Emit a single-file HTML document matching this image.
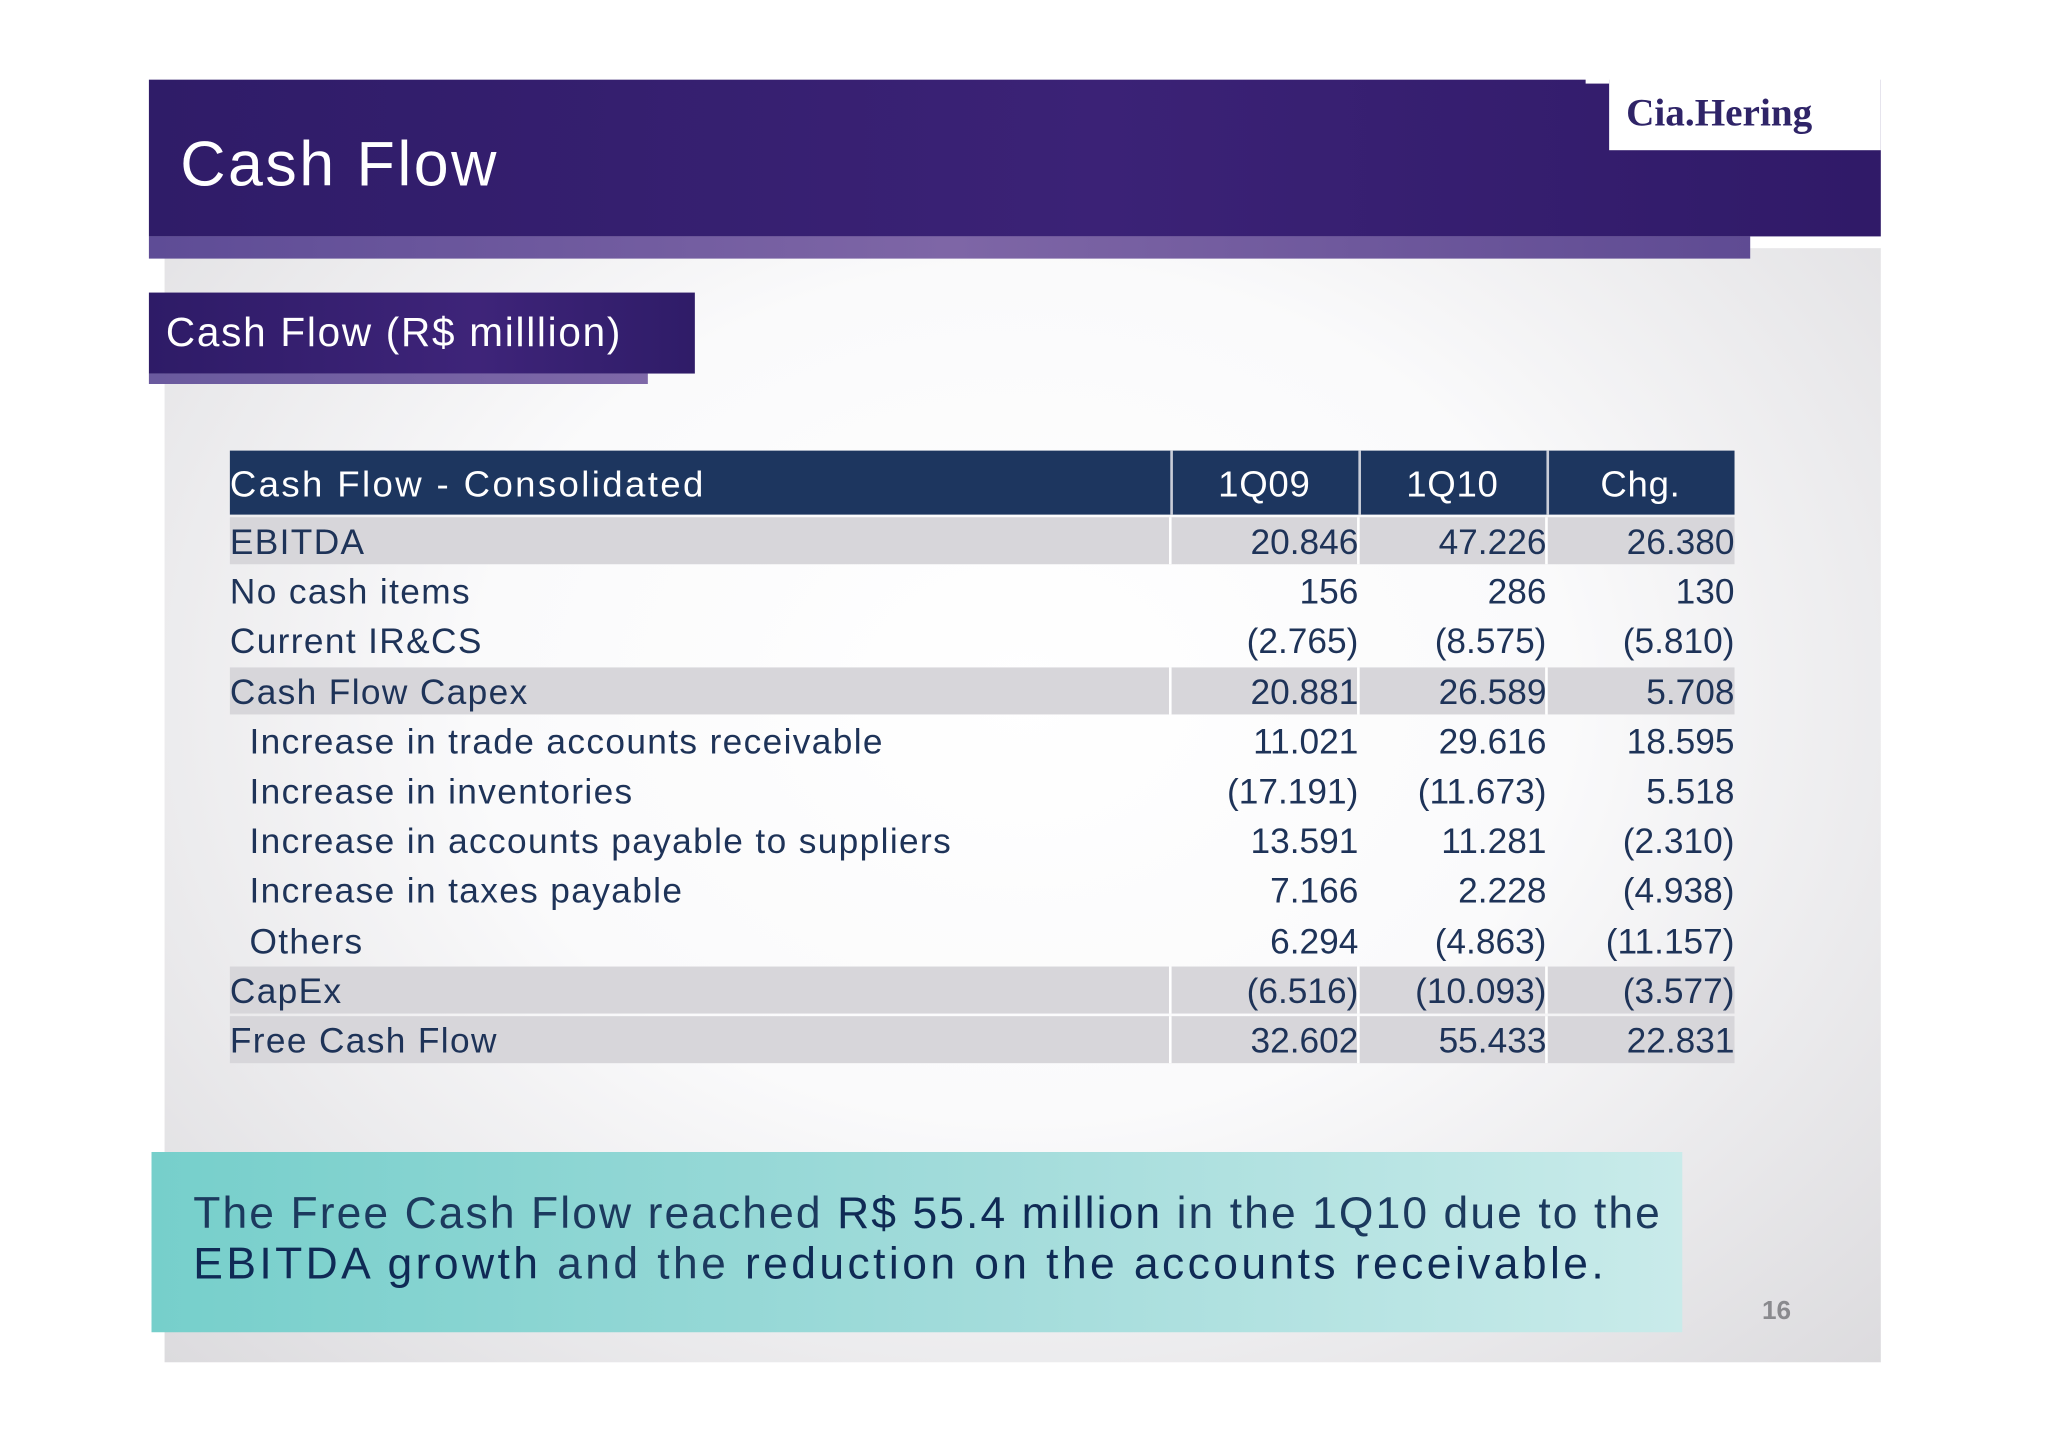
<!DOCTYPE html>
<html><head><meta charset="utf-8"><style>
html,body{margin:0;padding:0;background:#fff;width:2048px;height:1447px;overflow:hidden}
#s{position:absolute;left:0;top:0;width:1568px;height:1108px;transform:scale(1.30612);transform-origin:0 0;font-family:"Liberation Sans",sans-serif;letter-spacing:0.065em}
.a{position:absolute}
.row{position:absolute;left:176px;width:1152px;height:36px}
.row .lbl{position:absolute;left:0;top:1px;line-height:36px;font-size:27px;color:#1e3358;white-space:nowrap}
.row .v{position:absolute;top:1px;line-height:36px;font-size:27px;color:#1e3358;text-align:right;width:160px;letter-spacing:0}
.g{background:#d7d6da}
.gc{position:absolute;top:0;height:36px;border-left:2px solid #fff}
</style></head><body>
<div id="s">
<div class="a" style="left:126px;top:190px;width:1314px;height:853px;background:radial-gradient(ellipse at 50% 40%,#ffffff 0%,#fafafb 45%,#dcdbde 100%)"></div>
<div class="a" style="left:114px;top:61px;width:1326px;height:120px;background:linear-gradient(90deg,#2f1c68,#3b2276 55%,#301a68)"></div>
<div class="a" style="left:114px;top:181px;width:1226px;height:17px;background:linear-gradient(90deg,#5e4c96,#7e66a6 50%,#5f4b93)"></div>
<div class="a" style="left:1232px;top:55px;width:208px;height:60px;background:#fff"></div>
<div class="a" style="left:1214px;top:55px;width:18px;height:9px;background:#fff"></div>
<div class="a" style="left:1245px;top:70px;font-family:'Liberation Serif',serif;font-weight:bold;font-size:30px;color:#2f2468;letter-spacing:0">Cia.Hering</div>
<div class="a" style="left:138px;top:99px;font-size:48px;color:#fff;letter-spacing:0.04em">Cash Flow</div>
<div class="a" style="left:114px;top:224px;width:418px;height:62px;background:linear-gradient(90deg,#2e1b67,#3e2479 60%,#2f1c68)"></div>
<div class="a" style="left:114px;top:286px;width:382px;height:8px;background:linear-gradient(90deg,#6a5a9e,#7e68a8)"></div>
<div class="a" style="left:127px;top:237px;font-size:31px;color:#fff;letter-spacing:0.043em">Cash Flow (R$ milllion)</div>

<div class="a" style="left:176px;top:345px;width:1152px;height:49px;background:#1d365f">
  <div class="a" style="left:0;top:1px;line-height:50px;font-size:28px;color:#fff;letter-spacing:0.065em">Cash Flow - Consolidated</div>
  <div class="a" style="left:720px;top:0;width:2px;height:49px;background:#c9cdd8"></div>
  <div class="a" style="left:864px;top:0;width:2px;height:49px;background:#c9cdd8"></div>
  <div class="a" style="left:1008px;top:0;width:2px;height:49px;background:#c9cdd8"></div>
  <div class="a" style="left:720px;top:1px;width:144px;text-align:center;line-height:50px;font-size:28px;color:#fff;letter-spacing:0.02em">1Q09</div>
  <div class="a" style="left:864px;top:1px;width:144px;text-align:center;line-height:50px;font-size:28px;color:#fff;letter-spacing:0.02em">1Q10</div>
  <div class="a" style="left:1008px;top:1px;width:144px;text-align:center;line-height:50px;font-size:28px;color:#fff;letter-spacing:0.02em">Chg.</div>
</div>
<div id="rows"></div>

<div class="a" style="left:116px;top:882px;width:1172px;height:138px;background:linear-gradient(90deg,#76cfcb,#a3dcdb 55%,#c9ebea)"></div>
<div class="a" style="left:148px;top:910px;font-size:34px;line-height:39px;color:#1c3a5e;white-space:nowrap;letter-spacing:0.047em">The Free Cash Flow reached <span style="color:#0f2a55">R$ 55.4 million</span> in the 1Q10 due to the<br><span style="letter-spacing:0.077em"><span style="color:#0f2a55">EBITDA growth</span> and the <span style="color:#0f2a55">reduction on the accounts receivable.</span></span></div>
<div class="a" style="left:1349px;top:993px;font-size:20px;font-weight:bold;color:#8a8a8e;letter-spacing:0">16</div>
</div>
<script>
const labels=["EBITDA","No cash items","Current IR&CS","Cash Flow Capex","Increase in trade accounts receivable","Increase in inventories","Increase in accounts payable to suppliers","Increase in taxes payable","Others","CapEx","Free Cash Flow"];
const q109=["20.846","156","(2.765)","20.881","11.021","(17.191)","13.591","7.166","6.294","(6.516)","32.602"];
const q110=["47.226","286","(8.575)","26.589","29.616","(11.673)","11.281","2.228","(4.863)","(10.093)","55.433"];
const chg=["26.380","130","(5.810)","5.708","18.595","5.518","(2.310)","(4.938)","(11.157)","(3.577)","22.831"];
const shaded=[1,0,0,1,0,0,0,0,0,1,1];
const indent=[0,0,0,0,1,1,1,1,1,0,0];
const host=document.getElementById('rows');
labels.forEach((l,i)=>{
  const r=document.createElement('div');
  r.className='row'+(shaded[i]?' g':'');
  r.style.top=(396+i*38.2)+'px';
  
  
  let h='<div class="lbl" style="left:'+(indent[i]?15:0)+'px"></div>';
  if(shaded[i]) h+='<div class="gc" style="left:719px"></div><div class="gc" style="left:863px"></div><div class="gc" style="left:1007px"></div>';
  h+='<div class="v"></div><div class="v"></div><div class="v"></div>';
  r.innerHTML=h;
  r.querySelector('.lbl').textContent=l;
  const vs=r.querySelectorAll('.v');
  [q109,q110,chg].forEach((arr,j)=>{vs[j].textContent=arr[i];vs[j].style.left=(704+j*144)+'px';});
  host.appendChild(r);
});
</script>
</body></html>
